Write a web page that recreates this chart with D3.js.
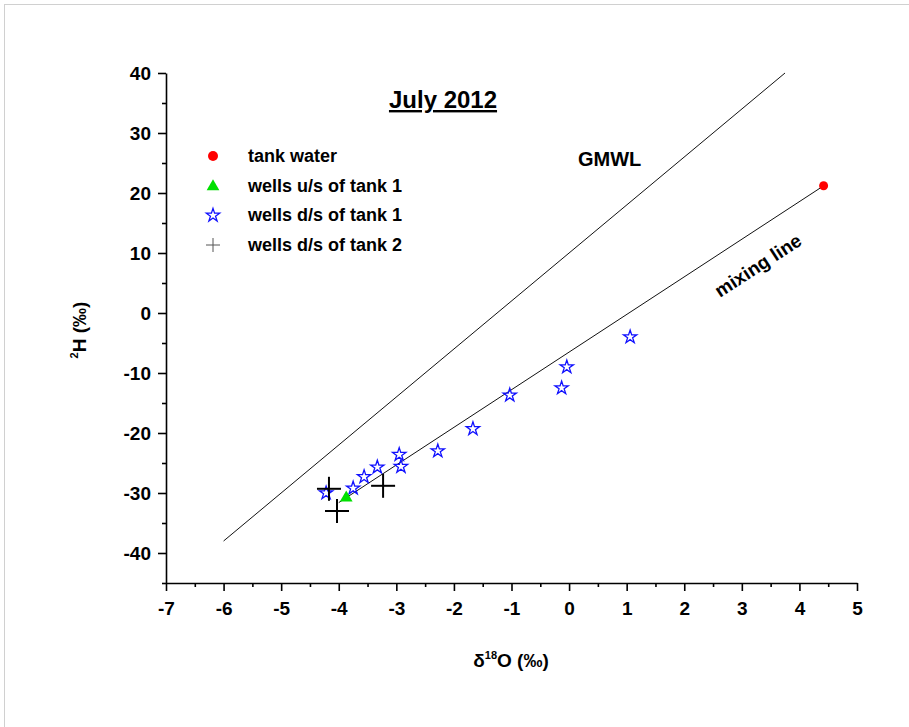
<!DOCTYPE html>
<html>
<head>
<meta charset="utf-8">
<script src="https://cdn.jsdelivr.net/npm/d3@7"></script>
<style>
  body { margin: 0; background: #fff; }
  svg { font-family: "Liberation Sans", Arial, sans-serif; font-weight: bold; }
</style>
</head>
<body>
<svg id="chart" width="909" height="727"></svg>
<script>
// data (delta18O, delta2H)
const tankWater = [[4.42, 21.2]]
const wellsUp1 = [[-3.87, -30.8]]
const wellsDown1 = [
  [1.06, -4.0], [-0.04, -9.0], [-0.13, -12.5], [-1.03, -13.7], [-1.67, -19.3],
  [-2.28, -23.0], [-2.95, -23.6], [-2.92, -25.6], [-3.33, -25.7], [-3.56, -27.3],
  [-3.75, -29.2], [-4.22, -30.0]
]
const wellsDown2 = [[-4.17, -29.3], [-4.03, -33.0], [-3.23, -28.8]]
const gmwl = [[-6, -38], [3.75, 40]]
const mixingLine = [[-4.0, -31.6], [4.42, 21.2]]
const xTicks = [-7, -6, -5, -4, -3, -2, -1, 0, 1, 2, 3, 4, 5]
const yTicks = [-40, -30, -20, -10, 0, 10, 20, 30, 40]

const svg = d3.select('#chart')

// light frame
svg.append('rect').attr('x', 4.5).attr('y', 4.5).attr('width', 920).attr('height', 740)
  .attr('fill', 'none').attr('stroke', '#d0d0d0')

const x = d3.scaleLinear().domain([-7, 5]).range([166, 857])
const y = d3.scaleLinear().domain([-45, 40]).range([583, 73])

// minor ticks
const xMinor = svg.append('g').attr('transform', `translate(0,${y(-45)})`)
  .call(d3.axisBottom(x).tickValues(d3.range(-6.5, 5, 1)).tickSize(4).tickFormat(''))
xMinor.select('.domain').remove()
const yMinor = svg.append('g').attr('transform', `translate(${x(-7)},0)`)
  .call(d3.axisLeft(y).tickValues(d3.range(-45, 40, 10)).tickSize(4).tickFormat(''))
yMinor.select('.domain').remove()

// major ticks
const fmt = d => (d < 0 ? '-' + Math.abs(d) : String(d))
const xMajor = svg.append('g').attr('transform', `translate(0,${y(-45)})`)
  .call(d3.axisBottom(x).tickValues(xTicks).tickSize(8).tickSizeOuter(0).tickPadding(11).tickFormat(fmt))
const yMajor = svg.append('g').attr('transform', `translate(${x(-7)},0)`)
  .call(d3.axisLeft(y).tickValues(yTicks).tickSize(8).tickSizeOuter(0).tickPadding(7).tickFormat(fmt))

svg.selectAll('.tick line, .domain').attr('stroke', '#000').attr('stroke-width', 1.6)
svg.selectAll('.tick text').attr('font-size', 19).attr('font-weight', 'bold')
  .attr('font-family', '"Liberation Sans", Arial, sans-serif').attr('fill', '#000')

// axis labels
const xl = svg.append('text').attr('x', 511).attr('y', 667).attr('text-anchor', 'middle')
  .attr('font-size', 19)
xl.append('tspan').text('δ')
xl.append('tspan').attr('font-size', 11).attr('dy', -8).text('18')
xl.append('tspan').attr('dy', 8).text('O (‰)')

const yl = svg.append('text').attr('transform', 'translate(86,330) rotate(-90)')
  .attr('text-anchor', 'middle').attr('font-size', 19)
yl.append('tspan').attr('font-size', 11).attr('dy', -8).text('2')
yl.append('tspan').attr('dy', 8).text('H (‰)')

// lines
const line = d3.line().x(d => x(d[0])).y(d => y(d[1]))
svg.append('path').attr('d', line(gmwl)).attr('fill', 'none').attr('stroke', '#111').attr('stroke-width', 1)
svg.append('path').attr('d', line(mixingLine)).attr('fill', 'none').attr('stroke', '#111').attr('stroke-width', 1)

// points
const star = d3.symbol().type(d3.symbolStar).size(55)
svg.append('g').selectAll('path').data(wellsDown1).join('path')
  .attr('transform', d => `translate(${x(d[0])},${y(d[1])})`)
  .attr('d', star).attr('fill', 'none').attr('stroke', '#1010ff').attr('stroke-width', 1.3)

const tri = d3.symbol().type(d3.symbolTriangle).size(70)
svg.append('g').selectAll('path').data(wellsUp1).join('path')
  .attr('transform', d => `translate(${x(d[0])},${y(d[1])})`)
  .attr('d', tri).attr('fill', '#00e000')

svg.append('g').selectAll('circle').data(tankWater).join('circle')
  .attr('cx', d => x(d[0])).attr('cy', d => y(d[1])).attr('r', 4.5).attr('fill', '#ff0000')

const plus = svg.append('g').selectAll('g').data(wellsDown2).join('g')
  .attr('transform', d => `translate(${x(d[0])},${y(d[1])})`)
plus.append('line').attr('x1', -12).attr('x2', 12).attr('stroke', '#000').attr('stroke-width', 2)
plus.append('line').attr('y1', -12).attr('y2', 12).attr('stroke', '#000').attr('stroke-width', 2)

// title
svg.append('text').attr('x', 443).attr('y', 108).attr('text-anchor', 'middle')
  .attr('font-size', 24).attr('text-decoration', 'underline').text('July 2012')

// annotations
svg.append('text').attr('x', 578).attr('y', 166).attr('font-size', 20).text('GMWL')
svg.append('text').attr('transform', 'translate(720,298) rotate(-33)').attr('font-size', 19).text('mixing line')

// legend
const legend = svg.append('g')
const legendRows = ['tank water', 'wells u/s of tank 1', 'wells d/s of tank 1', 'wells d/s of tank 2']
const ly = d3.scalePoint().domain(legendRows).range([156, 245])
legend.selectAll('text').data(legendRows).join('text')
  .attr('x', 248).attr('y', d => ly(d) + 6).attr('font-size', 18).text(d => d)
legend.append('circle').attr('cx', 213).attr('cy', ly(legendRows[0])).attr('r', 5).attr('fill', '#ff0000')
legend.append('path').attr('transform', `translate(213,${ly(legendRows[1]) + 1})`).attr('d', tri).attr('fill', '#00e000')
legend.append('path').attr('transform', `translate(213,${ly(legendRows[2])})`).attr('d', star)
  .attr('fill', 'none').attr('stroke', '#1010ff').attr('stroke-width', 1.3)
const lp = legend.append('g').attr('transform', `translate(213,${ly(legendRows[3])})`)
lp.append('line').attr('x1', -7).attr('x2', 7).attr('stroke', '#555').attr('stroke-width', 1)
lp.append('line').attr('y1', -7).attr('y2', 7).attr('stroke', '#555').attr('stroke-width', 1)
</script>
</body>
</html>
